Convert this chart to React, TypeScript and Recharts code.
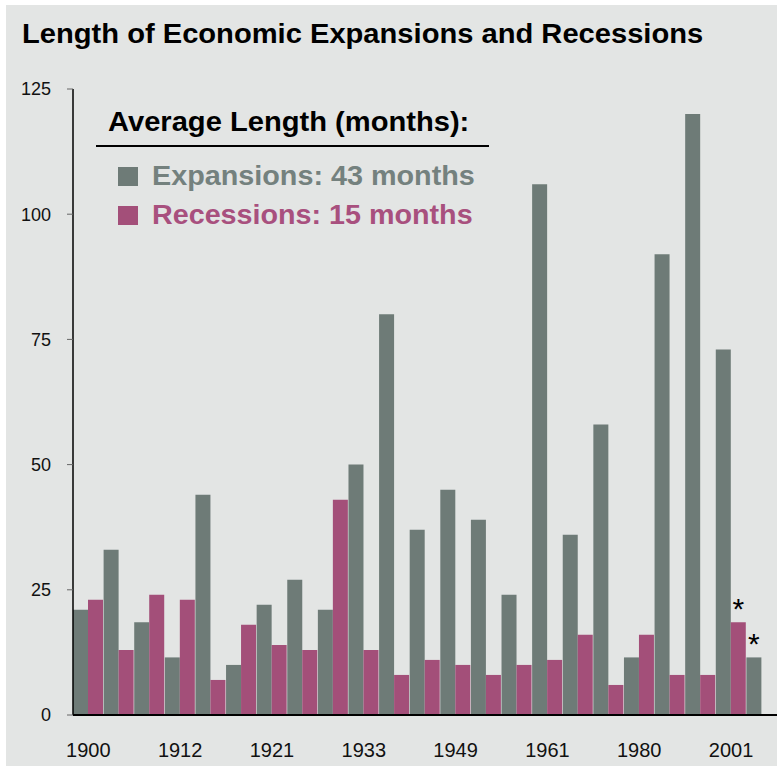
import { BarChart, Bar, XAxis, YAxis, LabelList } from 'recharts';

// trough year that opens each cycle (expansion followed by recession)
const cycleYears = [
  '1900', '1904', '1908', '1912', '1914', '1919', '1921', '1924', '1927', '1933', '1938', '1945',
  '1949', '1954', '1958', '1961', '1970', '1975', '1980', '1982', '1991', '2001', '2009',
];
const expansions = [21, 33, 18.5, 11.5, 44, 10, 22, 27, 21, 50, 80, 37, 45, 39, 24, 106, 36, 58, 11.5, 92, 120, 73, 11.5];
const recessions = [23, 13, 24, 23, 7, 18, 14, 13, 43, 13, 8, 11, 10, 8, 10, 11, 16, 6, 16, 8, 8, 18.5, null];
const expansionNotes = ['', '', '', '', '', '', '', '', '', '', '', '', '', '', '', '', '', '', '', '', '', '', '*'];
const recessionNotes = ['', '', '', '', '', '', '', '', '', '', '', '', '', '', '', '', '', '', '', '', '', '*', ''];
const yTicks = [0, 25, 50, 75, 100, 125];

const data = cycleYears.map((year, i) => ({
  year,
  expansion: expansions[i],
  recession: recessions[i],
  expNote: expansionNotes[i],
  recNote: recessionNotes[i],
}));

const GRAY = '#6e7b77';
const PINK = '#a34f79';
const FONT = '"Liberation Sans", Arial, sans-serif';

const textStyle = (size: number, color: string, stretch: number) => ({
  position: 'absolute' as const,
  fontSize: size,
  fontWeight: 'bold' as const,
  lineHeight: 1,
  color,
  whiteSpace: 'nowrap' as const,
  transform: `scaleX(${stretch})`,
  transformOrigin: 'left top',
});

export default function App() {
  return (
    <div style={{ position: 'fixed', left: 0, top: 0, width: 777, height: 767, background: '#fff', fontFamily: FONT }}>
      <div style={{ position: 'absolute', left: 6, top: 5, width: 771, height: 761, background: '#e3e5e4' }} />
      <div style={{ position: 'absolute', left: 0, top: 0 }}>
        <BarChart
          width={777}
          height={767}
          data={data}
          margin={{ top: 89, right: 0, bottom: 12, left: 13 }}
          barCategoryGap={0}
          barGap={0}
        >
          <XAxis
            dataKey="year"
            interval={2}
            height={40}
            tickSize={0}
            tickMargin={28}
            axisLine={{ stroke: '#000', strokeWidth: 2 }}
            tickLine={false}
            tick={{ fontFamily: FONT, fontSize: 20, fill: '#111' }}
          />
          <YAxis
            domain={[0, 125]}
            ticks={yTicks}
            width={60}
            tickSize={6}
            tickMargin={16}
            axisLine={{ stroke: '#000', strokeWidth: 1.5 }}
            tickLine={{ stroke: '#666' }}
            tick={{ fontFamily: FONT, fontSize: 18, fill: '#111' }}
          />
          <Bar dataKey="expansion" fill={GRAY} isAnimationActive={false}>
            <LabelList dataKey="expNote" position="top" offset={3} style={{ fontFamily: FONT, fontSize: 30, fill: '#000' }} />
          </Bar>
          <Bar dataKey="recession" fill={PINK} isAnimationActive={false}>
            <LabelList dataKey="recNote" position="top" offset={3} style={{ fontFamily: FONT, fontSize: 30, fill: '#000' }} />
          </Bar>
        </BarChart>
      </div>

      <div style={{ ...textStyle(28, '#000', 1.04), left: 22, top: 20 }}>
        Length of Economic Expansions and Recessions
      </div>

      <div style={{ ...textStyle(28, '#000', 1.04), left: 108, top: 108 }}>
        Average Length (months):
      </div>
      <div style={{ position: 'absolute', left: 96, top: 145, width: 393, height: 1.5, background: '#000' }} />

      <div style={{ position: 'absolute', left: 118, top: 167, width: 20, height: 19, background: GRAY }} />
      <div style={{ ...textStyle(27, '#74817e', 1.065), left: 152, top: 163 }}>
        Expansions: 43 months
      </div>
      <div style={{ position: 'absolute', left: 118, top: 206, width: 20, height: 19, background: PINK }} />
      <div style={{ ...textStyle(27, '#a8507e', 1.063), left: 152, top: 202 }}>
        Recessions: 15 months
      </div>
    </div>
  );
}
